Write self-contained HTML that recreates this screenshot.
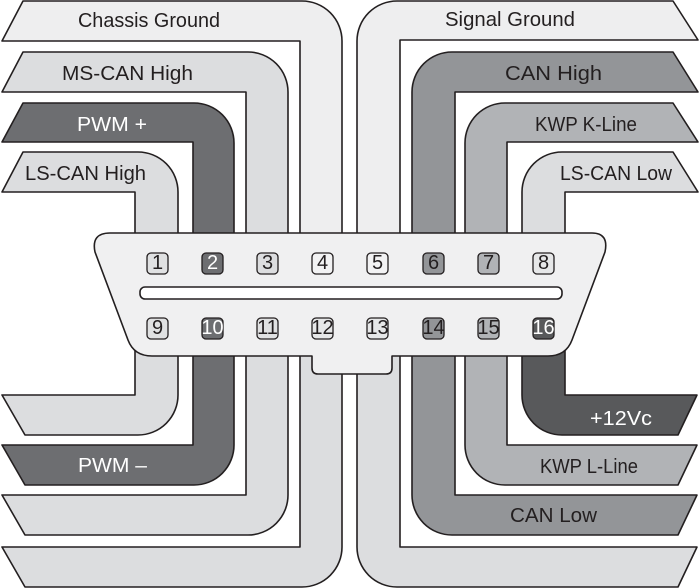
<!DOCTYPE html>
<html><head><meta charset="utf-8"><style>
html,body{margin:0;padding:0;background:#fff;}
svg{display:block;}
text{font-family:"Liberation Sans",sans-serif;font-size:20px;}
</style></head><body>
<svg width="700" height="588" viewBox="0 0 700 588" xmlns="http://www.w3.org/2000/svg">
<g stroke="#231f20" stroke-width="1.6" stroke-linejoin="round">
<path d="M23 1 L302 1 A40 40 0 0 1 342 41 L342 245 L300 245 L300 41 L2 41 Z" fill="#eeeeef"/>
<path d="M23 52 L248 52 A40 40 0 0 1 288 92 L288 245 L246 245 L246 92 L2 92 Z" fill="#dcdddf"/>
<path d="M23 103 L194 103 A40 40 0 0 1 234 143 L234 245 L193 245 L193 142 L2 142 Z" fill="#6d6e71"/>
<path d="M23 152 L138 152 A40 40 0 0 1 178 192 L178 245 L135 245 L135 192 L2 192 Z" fill="#dcdddf"/>
<path d="M357 245 L357 41 A40 40 0 0 1 397 1 L673 1 L698 40 L400 40 L400 245 Z" fill="#eeeeef"/>
<path d="M412 245 L412 92 A40 40 0 0 1 452 52 L673 52 L698 92 L455 92 L455 245 Z" fill="#939598"/>
<path d="M465 245 L465 143 A40 40 0 0 1 505 103 L673 103 L698 142 L507 142 L507 245 Z" fill="#b1b3b6"/>
<path d="M522 245 L522 192 A40 40 0 0 1 562 152 L673 152 L698 192 L565 192 L565 245 Z" fill="#dcdddf"/>
<path d="M135 345 L178 345 L178 395 A40 40 0 0 1 138 435 L25 435 L2 395 L135 395 Z" fill="#dcdddf"/>
<path d="M193 345 L234 345 L234 445 A40 40 0 0 1 194 485 L25 485 L2 445 L193 445 Z" fill="#6d6e71"/>
<path d="M246 345 L288 345 L288 495 A40 40 0 0 1 248 535 L25 535 L2 495 L246 495 Z" fill="#dcdddf"/>
<path d="M300 345 L342 345 L342 547 A40 40 0 0 1 302 587 L25 587 L2 547 L300 547 Z" fill="#dcdddf"/>
<path d="M565 345 L565 395 L697 395 L678 435 L562 435 A40 40 0 0 1 522 395 L522 345 Z" fill="#58595b"/>
<path d="M507 345 L507 445 L697 445 L678 485 L505 485 A40 40 0 0 1 465 445 L465 345 Z" fill="#b1b3b6"/>
<path d="M455 345 L455 495 L697 495 L678 535 L452 535 A40 40 0 0 1 412 495 L412 345 Z" fill="#939598"/>
<path d="M400 345 L400 547 L697 547 L678 587 L397 587 A40 40 0 0 1 357 547 L357 345 Z" fill="#dcdddf"/>
<path d="M110 233 H592 Q609 233 605 252 L572 340 Q566 356 548 356 H392 V368 Q392 374 386 374 H318 Q312 374 312 368 V356 H152 Q134 356 128 340 L95 252 Q91 233 110 233 Z" fill="#f0f0f1"/>
<rect x="140" y="287" width="422" height="12" rx="5" fill="#fff"/>
<g stroke-width="1.3">
<rect x="147" y="253" width="21" height="21" rx="4" fill="#e0e1e2"/>
<rect x="202" y="253" width="21" height="21" rx="4" fill="#6d6e71"/>
<rect x="257" y="253" width="21" height="21" rx="4" fill="#dcdddf"/>
<rect x="312" y="253" width="21" height="21" rx="4" fill="#f2f2f3"/>
<rect x="367" y="253" width="21" height="21" rx="4" fill="#f2f2f3"/>
<rect x="423" y="253" width="21" height="21" rx="4" fill="#939598"/>
<rect x="478" y="253" width="21" height="21" rx="4" fill="#b1b3b6"/>
<rect x="533" y="253" width="21" height="21" rx="4" fill="#e6e7e8"/>
<rect x="147" y="318" width="21" height="21" rx="4" fill="#e0e1e2"/>
<rect x="202" y="318" width="21" height="21" rx="4" fill="#6d6e71"/>
<rect x="257" y="318" width="21" height="21" rx="4" fill="#e0e1e2"/>
<rect x="312" y="318" width="21" height="21" rx="4" fill="#e6e7e8"/>
<rect x="367" y="318" width="21" height="21" rx="4" fill="#e6e7e8"/>
<rect x="423" y="318" width="21" height="21" rx="4" fill="#939598"/>
<rect x="478" y="318" width="21" height="21" rx="4" fill="#b1b3b6"/>
<rect x="533" y="318" width="21" height="21" rx="4" fill="#58595b"/>
</g>
</g>
<g text-anchor="middle" fill="#231f20" style="font-size:14px">
<text x="157.5" y="269">1</text><text x="212.5" y="269" fill="#fff">2</text><text x="267.5" y="269">3</text><text x="322.5" y="269">4</text>
<text x="377.5" y="269">5</text><text x="433.5" y="269">6</text><text x="488.5" y="269">7</text><text x="543.5" y="269">8</text>
<text x="157.5" y="334">9</text><text x="212.5" y="334" fill="#fff">10</text><text x="267.5" y="334">11</text><text x="322.5" y="334">12</text>
<text x="377.5" y="334">13</text><text x="433.5" y="334">14</text><text x="488.5" y="334">15</text><text x="543.5" y="334" fill="#fff">16</text>
</g>
<g fill="#231f20">
<text x="78" y="27" textLength="142" lengthAdjust="spacingAndGlyphs">Chassis Ground</text>
<text x="62" y="80" textLength="131" lengthAdjust="spacingAndGlyphs">MS-CAN High</text>
<text x="77" y="131" fill="#fff" textLength="70" lengthAdjust="spacingAndGlyphs">PWM +</text>
<text x="25" y="180" textLength="121" lengthAdjust="spacingAndGlyphs">LS-CAN High</text>
<text x="445" y="26" textLength="130" lengthAdjust="spacingAndGlyphs">Signal Ground</text>
<text x="505" y="80" textLength="97" lengthAdjust="spacingAndGlyphs">CAN High</text>
<text x="535" y="131" textLength="102" lengthAdjust="spacingAndGlyphs">KWP K-Line</text>
<text x="560" y="180" textLength="112" lengthAdjust="spacingAndGlyphs">LS-CAN Low</text>
<text x="590" y="425" fill="#fff" textLength="62" lengthAdjust="spacingAndGlyphs">+12Vc</text>
<text x="540" y="473" textLength="98" lengthAdjust="spacingAndGlyphs">KWP L-Line</text>
<text x="510" y="522" textLength="87" lengthAdjust="spacingAndGlyphs">CAN Low</text>
<text x="78" y="472" fill="#fff" textLength="69" lengthAdjust="spacingAndGlyphs">PWM –</text>
</g>
</svg>
</body></html>
